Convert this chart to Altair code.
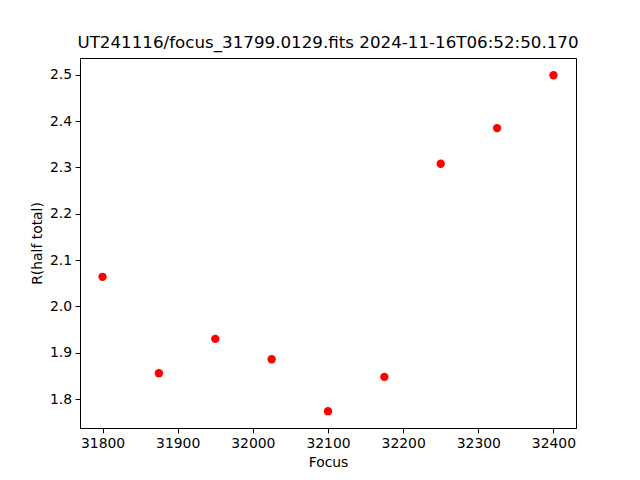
import altair as alt
import pandas as pd

focus = [31800, 31875, 31950, 32025, 32100, 32175, 32250, 32325, 32400]
r_half = [2.064, 1.856, 1.930, 1.886, 1.774, 1.848, 2.308, 2.385, 2.499]

df = pd.DataFrame({"Focus": focus, "R": r_half})

font = "DejaVu Sans"

chart = alt.Chart(df).mark_point(filled=True, color="#ff0000", opacity=1, size=70, shape="circle").encode(
    x=alt.X("Focus:Q", title="Focus",
            scale=alt.Scale(domain=[31770, 32430], nice=False, zero=False),
            axis=alt.Axis(values=list(range(31800, 32401, 100)), format="d")),
    y=alt.Y("R:Q", title="R(half total)",
            scale=alt.Scale(domain=[1.7377, 2.5363], nice=False, zero=False),
            axis=alt.Axis(values=[1.8, 1.9, 2.0, 2.1, 2.2, 2.3, 2.4, 2.5], format=".1f")),
).properties(
    width=496, height=370,
    title=alt.TitleParams("UT241116/focus_31799.0129.fits 2024-11-16T06:52:50.170",
                          font=font, fontSize=16.7, fontWeight="normal", color="black",
                          offset=6, anchor="middle"),
    autosize=alt.AutoSizeParams(type="none"),
    padding={"left": 72, "top": 50, "right": 56, "bottom": 44},
).configure_view(stroke="black", strokeWidth=1).configure_axis(
    grid=False, domainColor="black", tickColor="black", labelColor="black", titleColor="black",
    labelFont=font, titleFont=font, labelFontSize=13.9, titleFontSize=13.9,
    titleFontWeight="normal", tickSize=4.9, labelPadding=3.5, titlePadding=5,
    domainWidth=1, tickWidth=1,
)

chart.save("out.html", embed_options={"renderer": "svg", "actions": False})
